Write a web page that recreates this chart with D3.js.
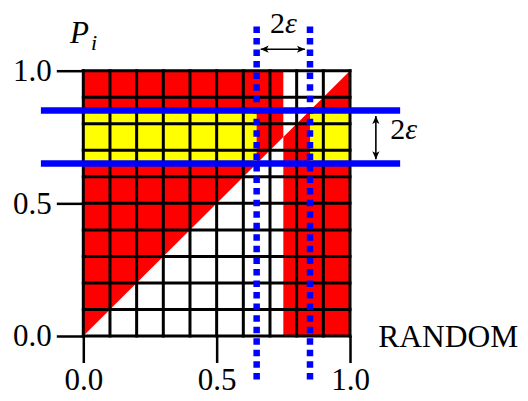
<!DOCTYPE html>
<html>
<head>
<meta charset="utf-8">
<script src="https://cdn.jsdelivr.net/npm/d3@7"></script>
<style>
  html, body { margin: 0; padding: 0; background: #fff; }
  svg { display: block; }
  text { font-family: "Liberation Serif", "Times New Roman", serif; fill: #000; }
</style>
</head>
<body>
<svg id="chart" width="528" height="401"></svg>
<script>
// Axis ticks and labels
const tickValues = [0, 0.5, 1];
const tickLabels = ["0.0", "0.5", "1.0"];
// Cell grid boundaries
const gridValues = [0, 0.1, 0.2, 0.3, 0.4, 0.5, 0.6, 0.7, 0.8, 0.9, 1.0];
// Red regions (polygons in data space): above the diagonal left of 0.75, below it right of 0.75
const redRegions = [
  [[0, 0], [0.75, 0.75], [0.75, 1], [0, 1]],
  [[0.75, 0], [1, 0], [1, 1], [0.75, 0.75]]
];
// Yellow bands: [x0, x1, y0, y1]
const yellowBands = [
  [0, 0.65, 0.65, 0.85],
  [0.85, 1, 0.65, 0.85]
];
// Window edges (centre 0.75, half-width epsilon = 0.1)
const windowEdges = [0.65, 0.85];
const axisTitles = { x: "RANDOM", y: "P", ySub: "i", eps: "2", epsSym: "ε" };

const svg = d3.select("#chart");
const x = d3.scaleLinear().domain([0, 1]).range([83.3, 350]);
const y = d3.scaleLinear().domain([0, 1]).range([336, 70.7]);

// Background cells
svg.append("rect")
  .attr("x", x(0)).attr("y", y(1))
  .attr("width", x(1) - x(0)).attr("height", y(0) - y(1))
  .attr("fill", "#fff");

const poly = d3.line().x(d => x(d[0])).y(d => y(d[1]));
svg.append("g").selectAll("path").data(redRegions).join("path")
  .attr("d", d => poly(d) + "Z")
  .attr("fill", "#ff0000");

svg.append("g").selectAll("rect").data(yellowBands).join("rect")
  .attr("x", d => x(d[0])).attr("y", d => y(d[3]))
  .attr("width", d => x(d[1]) - x(d[0]))
  .attr("height", d => y(d[2]) - y(d[3]))
  .attr("fill", "#ffff00");

// Grid lines
const grid = svg.append("g").attr("stroke", "#000").attr("stroke-width", 3).attr("stroke-linecap", "square");
grid.selectAll("line.v").data(gridValues).join("line").attr("class", "v")
  .attr("x1", d => x(d)).attr("x2", d => x(d))
  .attr("y1", y(0)).attr("y2", y(1));
grid.selectAll("line.h").data(gridValues).join("line").attr("class", "h")
  .attr("y1", d => y(d)).attr("y2", d => y(d))
  .attr("x1", x(0)).attr("x2", x(1));

// Axes
const fmt = (d) => tickLabels[tickValues.indexOf(d)];
const yAxis = svg.append("g").attr("transform", `translate(${x(0)},0)`)
  .call(d3.axisLeft(y).tickValues(tickValues).tickFormat(fmt).tickSize(26.5).tickPadding(5));
const xAxis = svg.append("g").attr("transform", `translate(0,${y(0)})`)
  .call(d3.axisBottom(x).tickValues(tickValues).tickFormat(fmt).tickSize(27).tickPadding(5));
[xAxis, yAxis].forEach(g => {
  g.attr("font-family", null);
  g.select(".domain").remove();
  g.selectAll(".tick line").attr("stroke", "#000").attr("stroke-width", 2.5);
  g.selectAll(".tick text")
    .style("font-family", '"Liberation Serif", serif')
    .style("font-size", "31px").attr("fill", "#000");
});

// Window lines
svg.append("g").selectAll("line").data(windowEdges).join("line")
  .attr("x1", x(-0.159)).attr("x2", x(1.188))
  .attr("y1", d => y(d)).attr("y2", d => y(d))
  .attr("stroke", "#0000ff").attr("stroke-width", 6.5);
svg.append("g").selectAll("line").data(windowEdges).join("line")
  .attr("x1", d => x(d)).attr("x2", d => x(d))
  .attr("y1", y(1.167)).attr("y2", y(-0.172))
  .attr("stroke", "#0000ff").attr("stroke-width", 6.5)
  .attr("stroke-dasharray", "6.5 5.05");

// Arrowheads
const defs = svg.append("defs");
defs.append("marker").attr("id", "arr")
  .attr("viewBox", "-8 -4 9 8").attr("refX", 0).attr("refY", 0)
  .attr("markerWidth", 9).attr("markerHeight", 8)
  .attr("markerUnits", "userSpaceOnUse").attr("orient", "auto-start-reverse")
  .append("path").attr("d", "M0,0 L-8,-3.6 L-6,0 L-8,3.6 Z").attr("fill", "#000");

const hy = 1.081, vx = 1.097;
svg.append("line")
  .attr("x1", x(0.665)).attr("x2", x(0.831))
  .attr("y1", y(hy)).attr("y2", y(hy))
  .attr("stroke", "#000").attr("stroke-width", 1.6)
  .attr("marker-start", "url(#arr)").attr("marker-end", "url(#arr)");
svg.append("line")
  .attr("x1", x(vx)).attr("x2", x(vx))
  .attr("y1", y(0.829)).attr("y2", y(0.666))
  .attr("stroke", "#000").attr("stroke-width", 1.6)
  .attr("marker-start", "url(#arr)").attr("marker-end", "url(#arr)");

// Labels
function epsLabel(tx, ty, anchor) {
  const t = svg.append("text").attr("x", tx).attr("y", ty)
    .attr("text-anchor", anchor).style("font-size", "30px");
  t.append("tspan").text(axisTitles.eps);
  t.append("tspan").style("font-style", "italic").text(axisTitles.epsSym);
}
epsLabel(x(0.75), y(1.141), "middle");
epsLabel(x(1.151), y(0.743), "start");

svg.append("text").attr("x", 378.3).attr("y", 346.7)
  .style("font-size", "31.5px").text(axisTitles.x);

const py = svg.append("text").attr("x", 70).attr("y", 43.3).style("font-size", "31px");
py.append("tspan").style("font-style", "italic").text(axisTitles.y);
py.append("tspan").style("font-style", "italic").style("font-size", "22px")
  .attr("dx", 2).attr("dy", 7).text(axisTitles.ySub);
</script>
</body>
</html>
